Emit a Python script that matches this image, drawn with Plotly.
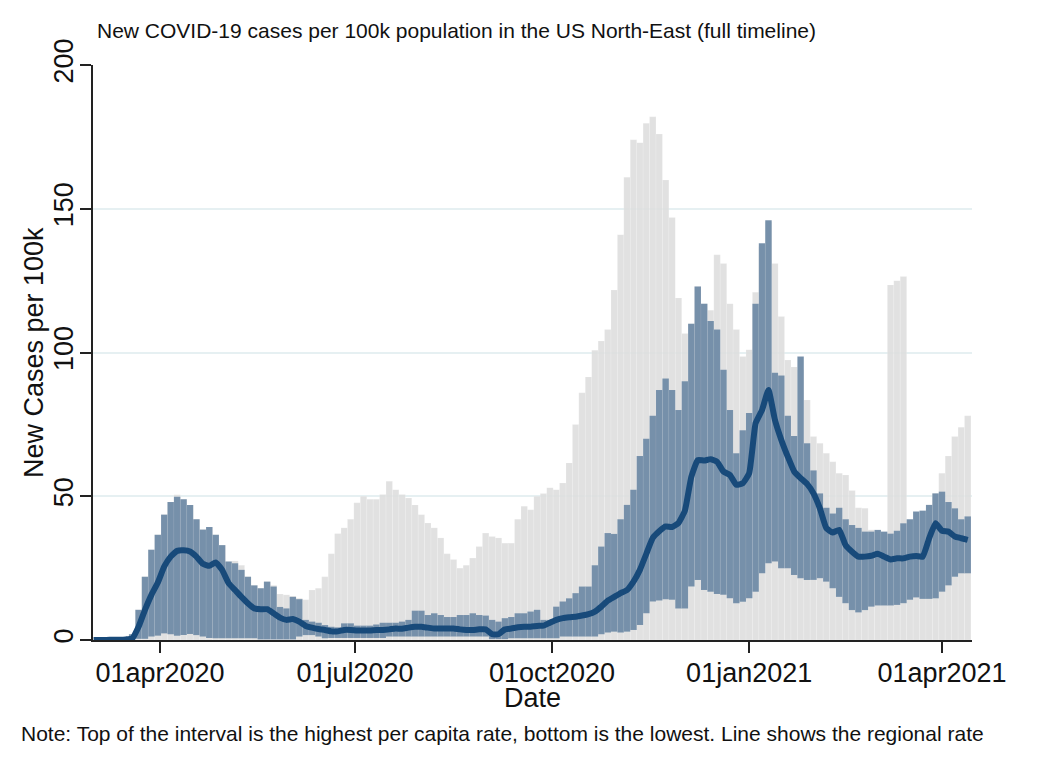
import pandas as pd
import plotly.graph_objects as go

gray_top = [0,0,0,0.1,0.2,0.5,2,10.5,22,31.4,36.6,43.6,48,50.5,49,47,42,38.4,39.3,36.6,
33,27.3,27.5,26,22,19,18,20.3,19,16,15.7,15.3,14.5,14,17.4,18,22,30,37,39,
42,47.7,50,49,49,50.6,55.2,52.3,50.6,49.4,47,43.6,40.7,39,35.5,30,28,25,26,28.5,
32.5,37.2,36,35.5,33.7,33.7,42,46.5,45.3,50,51,53,52.3,54.6,61.6,75,86,91.5,100.8,104,
108,121.7,141,161,174,173,179.7,182,176,160,147,119,106.6,110,123,117,114.7,134,131,117,
108,98.6,101,121,136.8,145.5,131,112.5,97.4,95,94,83.5,70.8,68.4,65,62,58,57.4,52,46,
45.8,38.3,37,37,123.5,125,126.4,40,42,43,46,51,58,64,70.8,74,78]

blue_top = [0,0,0,0.1,0.2,0.5,2,10.5,22,31.4,36.6,43.6,48,49.8,49,47,42,38.4,39.3,36.6,
33,27.3,26.7,24.4,22,19,18,20.3,18.6,11.5,11,15,14.2,7,6.4,6,5.2,4.6,4.4,5.8,
5.8,5,5,5,5.4,6,6,6,6.4,7,10.2,10.2,8.7,9.3,8.7,8,8,8.7,8.7,9.3,
8.7,8.5,7,6.4,7.6,8,9.3,9.3,9.9,10.5,7,7,11.6,13.4,14.5,16.3,18.6,18.6,26,32.5,
37.2,36.9,42,47,52.3,64,70,78,87,91,87,80,90,110,123,117,111,108,94,80,
65,73,79,117,138,146,93,92,78,71,98.6,68.4,59,51,46,44,46,42,40,39,
37.7,37.7,38.3,37.7,37,38,40.6,42,44.7,45,47,51,51.6,48,45.8,42,43]

blue_bottom = [0,0,0,0,0,0,0.2,0.4,0.4,1.2,1.5,2.3,2,1.5,1.7,2.1,1.7,1.2,0.7,0.6,
0.6,0.6,0.6,0.6,0.6,0.6,0.2,0.2,0.2,0.2,0.2,0.2,1.2,1.7,1.7,1.2,0.6,0.7,0.7,0.7,
0.7,0.7,0.7,0.7,0.7,0.7,1.2,1.2,1.2,1.2,1.2,1.2,1.2,1.2,1.2,1.2,1.2,1.2,1.2,1.2,
1.2,1.2,0.3,0.3,0.3,0.6,0.6,0.6,0.6,0.6,0.6,0.6,0.6,1.2,1.2,1.2,1.2,1.2,1.2,2,
2.6,2.9,2.6,2.9,3.5,5.2,9.3,13.4,13.7,14.2,14,11,11,18.6,20.9,17.4,16.8,16,15.7,14.5,
12.8,13.3,14.5,16.8,23.2,26.7,27.3,25,25,22.6,21.5,20.9,20.9,21.5,20.3,18,15,12.8,10.4,9.6,
10.4,11.6,12,12,12,12.2,12.8,14,14.8,14.3,14.3,14.5,16.8,19,22,23.2,23.2]

regional_rate = [0,0,0,0.1,0.1,0.2,0.5,4.6,10.5,15.7,20,25.6,29,31,31.2,30.8,29,26.5,25.8,27,
24.4,19.8,17.4,15,12.8,11,10.7,10.7,9.3,7.8,7,7.3,6.4,4.9,4.3,3.8,3.5,3,3,3.5,
3.5,3.3,3.3,3.3,3.5,3.5,3.7,4,3.9,4.3,4.6,4.6,4.3,4,4,4,4,3.7,3.5,3.5,
3.7,3.7,2,2,3.7,4,4.4,4.6,4.6,4.9,5,6,7,7.6,7.9,8.1,8.5,9,9.9,11.6,
13.7,15,16.3,17.4,20.3,24.4,30,35.5,37.8,39.5,39.3,40.7,45,56.8,62.6,62.4,62.9,62,58.6,57.4,
54,54.5,58,75.4,80,87,76.6,69.6,63.8,58.6,56.3,54.3,51,45.8,38.9,37.4,38.3,33,30.7,29,
29,29.3,30,29,28,28.4,28.4,29,29.2,29,35.4,40.6,38,37.7,36,35.4,34.8]

start_date = "2020-03-01"
x_range = ["2020-02-29 17:30", "2021-04-15 00:00"]
tick_dates = ["2020-04-01", "2020-07-01", "2020-10-01", "2021-01-01", "2021-04-01"]
tick_labels = ["01apr2020", "01jul2020", "01oct2020", "01jan2021", "01apr2021"]
y_ticks = [0, 50, 100, 150, 200]

dates = pd.date_range(start_date, periods=len(gray_top), freq="3D")
assert len(gray_top) == len(blue_top) == len(blue_bottom) == len(regional_rate)
BAR_W = 3 * 86400000
FONT = "Liberation Sans, Arial, sans-serif"
W, H = 879, 575
def px(v): return (v - 93) / W
def py(v): return (640 - v) / H

fig = go.Figure()
fig.add_bar(x=dates, y=gray_top, width=BAR_W,
            marker=dict(color="rgba(221,221,221,0.88)", line=dict(width=1, color="rgba(255,255,255,0.15)")), hoverinfo="skip")
fig.add_bar(x=dates, y=[t - b for t, b in zip(blue_top, blue_bottom)], base=blue_bottom, width=BAR_W,
            marker=dict(color="rgb(118,144,170)", line=dict(width=1, color="rgba(255,255,255,0.05)")), hoverinfo="skip")
fig.add_scatter(x=dates, y=regional_rate, mode="lines", line=dict(color="#184a7a", width=6, shape="spline", smoothing=0.4))

fig.update_layout(
    width=1050, height=764, showlegend=False, barmode="overlay",
    paper_bgcolor="white", plot_bgcolor="white",
    margin=dict(l=85, r=86, t=57, b=132, pad=0),
    font=dict(family=FONT, color="#111111"),
    annotations=[
        dict(text="New COVID-19 cases per 100k population in the US North-East (full timeline)",
             xref="paper", yref="paper", x=px(95), y=py(31), xanchor="left", yanchor="middle",
             showarrow=False, font=dict(size=21, family=FONT, color="#111111")),
        dict(text="Note: Top of the interval is the highest per capita rate, bottom is the lowest. Line shows the regional rate",
             xref="paper", yref="paper", x=px(19), y=py(733), xanchor="left", yanchor="middle",
             showarrow=False, font=dict(size=21, family=FONT, color="#111111")),
        dict(text="Date", xref="paper", yref="paper", x=px(532), y=py(698), xanchor="center", yanchor="middle",
             showarrow=False, font=dict(size=27, family=FONT, color="#111111")),
        dict(text="New Cases per 100k", xref="paper", yref="paper", x=px(34), y=py(353), xanchor="center", yanchor="middle",
             textangle=-90, showarrow=False, font=dict(size=27, family=FONT, color="#111111")),
    ],
    xaxis=dict(range=x_range, type="date", tickvals=tick_dates, ticktext=tick_labels, showgrid=False,
               ticks="outside", ticklen=11, tickwidth=1.5, tickcolor="#222222", showline=True,
               linecolor="#222222", linewidth=2, zeroline=False, tickfont=dict(size=27, family=FONT),
               ticklabelstandoff=-3),
    yaxis=dict(range=[0, 200], tickvals=y_ticks, tickangle=-90, showgrid=True, gridcolor="#e6f0f2", gridwidth=1.5,
               ticks="outside", ticklen=11, tickwidth=1.5, tickcolor="#222222", showline=True,
               linecolor="#222222", linewidth=2, zeroline=False, tickfont=dict(size=27, family=FONT),
               ticklabelstandoff=-4),
)
fig.write_html("out.html")
